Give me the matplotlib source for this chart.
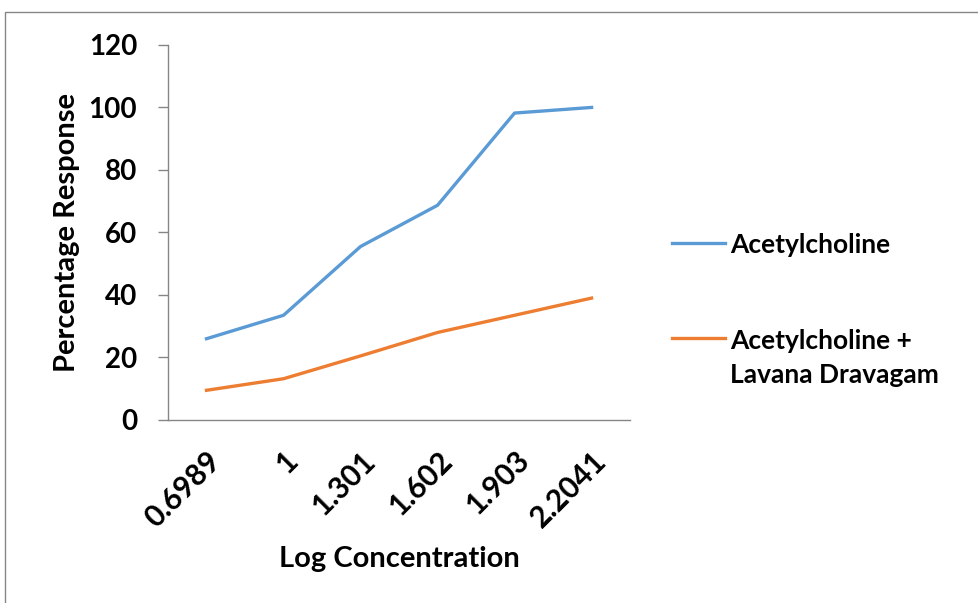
import matplotlib.pyplot as plt
from matplotlib.patches import Rectangle

# Datos
log_conc = ["0.6989", "1", "1.301", "1.602", "1.903", "2.2041"]
acetylcholine = [26.0, 33.5, 55.5, 68.7, 98.2, 100.0]
acetylcholine_lavana = [9.5, 13.2, 20.5, 28.0, 33.5, 39.0]

plt.rcParams['font.family'] = ['Lato', 'DejaVu Sans']
plt.rcParams['font.weight'] = 'bold'

fig = plt.figure(figsize=(9.79, 6.03), dpi=100)
ax = fig.add_axes([0.1716, 0.3035, 0.472, 0.622])

x = range(len(log_conc))
ax.plot(x, acetylcholine, color='#5B9BD5', linewidth=2.4, label='Acetylcholine')
ax.plot(x, acetylcholine_lavana, color='#ED7D31', linewidth=2.4,
        label='Acetylcholine +\nLavana Dravagam')

ax.set_xlim(-0.5, len(log_conc) - 0.5)
ax.set_ylim(0, 120)
ax.set_yticks(range(0, 121, 20))
ax.set_xticks(list(x))
ax.set_xticklabels(log_conc, rotation=45, ha='right', va='top',
                   rotation_mode='anchor', fontsize=21.5, fontweight='bold')
ax.tick_params(axis='x', length=0, pad=19)
ax.tick_params(axis='y', length=7.2, width=1, color='#868686', labelsize=20, pad=15)
for lbl in ax.get_yticklabels():
    lbl.set_fontweight('bold')

for side in ['top', 'right']:
    ax.spines[side].set_visible(False)
for side in ['left', 'bottom']:
    ax.spines[side].set_color('#868686')
    ax.spines[side].set_linewidth(1)

ax.set_ylabel('Percentage Response', fontsize=21, fontweight='bold', labelpad=6)
ax.set_xlabel('Log Concentration', fontsize=21, fontweight='bold', labelpad=10)

leg = fig.legend(loc='center left', bbox_to_anchor=(0.662, 0.486), frameon=False,
                 handlelength=2.0, handletextpad=0.22, labelspacing=2.7,
                 prop={'weight': 'bold', 'size': 19})
for t in leg.get_texts():
    t.set_linespacing(1.5)
# alinear la línea de la leyenda con la primera línea del texto
for col in leg._legend_handle_box.get_children():
    for item in col.get_children():
        item.align = 'top'

# marco exterior del gráfico
fig.patches.append(Rectangle((0.005, -0.1), 1.1, 1.08, transform=fig.transFigure,
                             fill=False, edgecolor='#868686', linewidth=1))

fig.savefig('out.png', dpi=100)
